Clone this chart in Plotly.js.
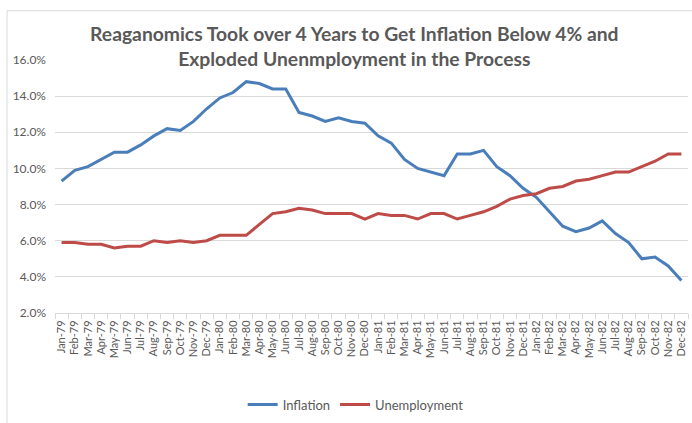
<!DOCTYPE html>
<html>
<head>
<meta charset="utf-8">
<script src="https://cdn.plot.ly/plotly-3.0.1.min.js"></script>
<style>html,body{margin:0;padding:0;background:#fff}#chart{width:692px;height:423px}</style>
</head>
<body>
<div id="chart"></div>
<script>
const months = ["Jan-79","Feb-79","Mar-79","Apr-79","May-79","Jun-79","Jul-79","Aug-79","Sep-79","Oct-79","Nov-79","Dec-79",
"Jan-80","Feb-80","Mar-80","Apr-80","May-80","Jun-80","Jul-80","Aug-80","Sep-80","Oct-80","Nov-80","Dec-80",
"Jan-81","Feb-81","Mar-81","Apr-81","May-81","Jun-81","Jul-81","Aug-81","Sep-81","Oct-81","Nov-81","Dec-81",
"Jan-82","Feb-82","Mar-82","Apr-82","May-82","Jun-82","Jul-82","Aug-82","Sep-82","Oct-82","Nov-82","Dec-82"];
const inflation = [9.3,9.9,10.1,10.5,10.9,10.9,11.3,11.8,12.2,12.1,12.6,13.3,
13.9,14.2,14.8,14.7,14.4,14.4,13.1,12.9,12.6,12.8,12.6,12.5,
11.8,11.4,10.5,10.0,9.8,9.6,10.8,10.8,11.0,10.1,9.6,8.9,
8.4,7.6,6.8,6.5,6.7,7.1,6.4,5.9,5.0,5.1,4.6,3.8];
const unemployment = [5.9,5.9,5.8,5.8,5.6,5.7,5.7,6.0,5.9,6.0,5.9,6.0,
6.3,6.3,6.3,6.9,7.5,7.6,7.8,7.7,7.5,7.5,7.5,7.2,
7.5,7.4,7.4,7.2,7.5,7.5,7.2,7.4,7.6,7.9,8.3,8.5,
8.6,8.9,9.0,9.3,9.4,9.6,9.8,9.8,10.1,10.4,10.8,10.8];
const titleText = "Reaganomics Took over 4 Years to Get Inflation Below 4% and<br>Exploded Unenmployment in the Process";
const FONT = "Lato, 'Open Sans', sans-serif";

const traces = [
  {x: months, y: inflation, name: "Inflation", type: "scatter", mode: "lines",
   line: {color: "#4a7ebb", width: 3}},
  {x: months, y: unemployment, name: "Unemployment", type: "scatter", mode: "lines",
   line: {color: "#be4b48", width: 3}}
];
const layout = {
  width: 692, height: 423,
  paper_bgcolor: "#fff", plot_bgcolor: "#fff",
  margin: {l: 55, r: 4, t: 60, b: 106},
  font: {family: FONT, color: "#595959"},
  title: {text: "<b>" + titleText + "</b>", x: 0.512, xanchor: "center", y: 0.904, yanchor: "middle",
          yref: "container", font: {family: FONT, size: 19.3, color: "#595959"}},
  xaxis: {type: "category", range: [-0.5, 47.5], tickangle: -90, tickfont: {size: 11, color: "#595959"},
          tickmode: "array", tickvals: months, ticktext: months,
          showgrid: false, showline: true, linecolor: "#d9d9d9", linewidth: 1,
          ticks: "outside", ticklen: 5, tickcolor: "#d9d9d9", tickson: "boundaries", zeroline: false,
          ticklabelstandoff: 2},
  yaxis: {range: [2, 16], dtick: 2, tickformat: ".1f", ticksuffix: "%", tickfont: {size: 12, color: "#595959"},
          showgrid: true, gridcolor: "#d9d9d9", gridwidth: 1, zeroline: false, showline: false, ticks: "",
          ticklabelstandoff: 8},
  showlegend: true,
  legend: {orientation: "h", x: 0.475, xanchor: "center", y: -0.362, yanchor: "middle",
           font: {size: 13, color: "#595959"}, traceorder: "normal"},
  shapes: [
    {type: "rect", xref: "paper", yref: "paper", x0: -0.0758, x1: 1.2, y0: -0.6, y1: 1.1946,
     line: {color: "#d9d9d9", width: 1}, fillcolor: "rgba(0,0,0,0)", layer: "below"}
  ]
};
Plotly.newPlot("chart", traces, layout, {displayModeBar: false, staticPlot: true});
</script>
</body>
</html>
